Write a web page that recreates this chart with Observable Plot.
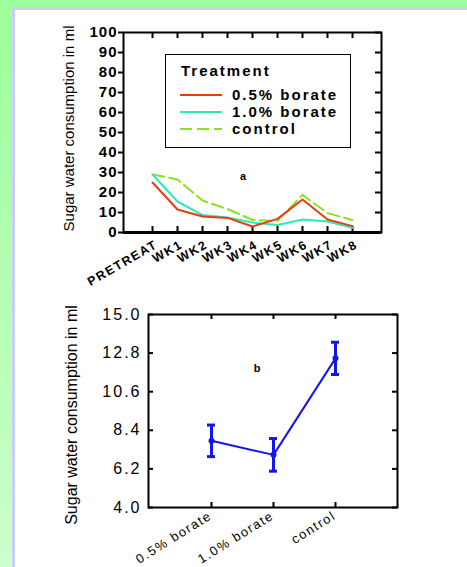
<!DOCTYPE html>
<html>
<head>
<meta charset="utf-8">
<script src="https://cdn.jsdelivr.net/npm/d3@7"></script>
<script src="https://cdn.jsdelivr.net/npm/@observablehq/plot@0.6"></script>
<style>
  html, body { margin: 0; padding: 0; width: 467px; height: 567px; overflow: hidden; }
  body { background: linear-gradient(to bottom, #9dff9a 0%, #b8ffb8 60%, #ccffcc 100%); position: relative; font-family: "Liberation Sans", Arial, sans-serif; }
  #panel { position: absolute; left: 12px; top: 7px; width: 452px; height: 557px; background: #fff; border-left: 3px solid #ccccff; border-top: 3px solid #ccccff; }
  .chart { position: absolute; left: 0; }
  #chartA { top: 0; }
  #chartB { top: 290px; }
  #chartA g[aria-label="y-axis tick label"] text { font-weight: bold; letter-spacing: 1px; }
  #chartA g[aria-label="x-axis tick label"] text { font-weight: bold; letter-spacing: 1.5px; }
  #chartB g[aria-label="y-axis tick label"] text { letter-spacing: 2px; }
  #chartB g[aria-label="x-axis tick label"] text { letter-spacing: 1.5px; }
  #overlay { position: absolute; left: 0; top: 0; pointer-events: none; }
</style>
</head>
<body>
<div id="panel"></div>
<div id="chartA" class="chart"></div>
<div id="chartB" class="chart"></div>
<svg id="overlay" width="467" height="567"></svg>
<script>
// ---- data ----
const weeks = ["PRETREAT", "WK1", "WK2", "WK3", "WK4", "WK5", "WK6", "WK7", "WK8"];
const borate05 = [25, 11.5, 8, 7.3, 3, 6.8, 16.5, 6.5, 3.2];
const borate10 = [29, 15.5, 8.7, 7.5, 5, 3.7, 6.5, 5.5, 2.3];
const control = [29, 26.5, 16, 11.7, 6.3, 5.8, 18.8, 9.7, 6.2];
const yTicksA = [0, 10, 20, 30, 40, 50, 60, 70, 80, 90, 100];

const groups = ["0.5% borate", "1.0% borate", "control"];
const means = [7.8, 7.0, 12.5];
const errs = [0.9, 0.93, 0.92];
const yTicksB = [4.0, 6.2, 8.4, 10.6, 12.8, 15.0];

const seriesNames = ["0.5% borate", "1.0% borate", "control"];
const yLabel = "Sugar water consumption in ml";
const legendTitle = "Treatment";

// ---- styles ----
const font = "Liberation Sans, Arial, sans-serif";
const cRed = "#ec3a12", cCyan = "#2ee8b8", cGreen = "#8ce01c", cBlue = "#1414ee";

const rows = (vals, name) => weeks.map((w, i) => ({week: w, value: vals[i], series: name}));
const d05 = rows(borate05, seriesNames[0]);
const d10 = rows(borate10, seriesNames[1]);
const dCt = rows(control, seriesNames[2]);

const WA = 467, HA = 290, mlA = 123, mrA = 86, mtA = 32, mbA = 58;
const fwA = WA - mlA - mrA, fhA = HA - mtA - mbA;

const chartA = Plot.plot({
  width: WA, height: HA,
  marginLeft: mlA, marginRight: mrA, marginTop: mtA, marginBottom: mbA,
  style: {fontFamily: font, background: "transparent", overflow: "visible", color: "black"},
  x: {type: "point", domain: weeks, padding: 1},
  y: {domain: [0, 100]},
  marks: [
    Plot.frame({stroke: "black", strokeWidth: 2}),
    Plot.ruleY([0], {stroke: "black", strokeWidth: 3}),
    Plot.tickX(weeks, {x: d => d, insetBottom: fhA - 6, stroke: "black", strokeWidth: 2}),
    Plot.tickX(weeks, {x: d => d, insetTop: fhA - 6, stroke: "black", strokeWidth: 2}),
    Plot.tickY(yTicksA, {y: d => d, insetLeft: fwA - 6, stroke: "black", strokeWidth: 2}),
    Plot.axisY({ticks: yTicksA, tickSize: 5, tickPadding: 1, fontSize: 15, fontWeight: "bold", strokeWidth: 2, label: null}),
    Plot.axisX({tickSize: 0, tickRotate: -30, tickPadding: 11, fontSize: 12.5, fontWeight: "bold", dx: 4, label: null}),
    Plot.line(dCt, {x: "week", y: "value", stroke: cGreen, strokeWidth: 2, strokeDasharray: "12,5"}),
    Plot.line(d10, {x: "week", y: "value", stroke: cCyan, strokeWidth: 2}),
    Plot.line(d05, {x: "week", y: "value", stroke: cRed, strokeWidth: 2}),
    Plot.text([yLabel], {text: d => d, frameAnchor: "left", textAnchor: "middle", rotate: -90, dx: -54, dy: -4, fontSize: 15, fill: "black"})
  ]
});
document.getElementById("chartA").appendChild(chartA);

const WB = 467, HB = 277, mlB = 148, mrB = 70, mtB = 24, mbB = 60;
const fwB = WB - mlB - mrB, fhB = HB - mtB - mbB;
const dB = groups.map((g, i) => ({g, m: means[i], e: errs[i]}));

const chartB = Plot.plot({
  width: WB, height: HB,
  marginLeft: mlB, marginRight: mrB, marginTop: mtB, marginBottom: mbB,
  style: {fontFamily: font, background: "transparent", overflow: "visible", color: "black"},
  x: {type: "point", domain: groups, padding: 1},
  y: {domain: [4, 15]},
  marks: [
    Plot.frame({stroke: "black", strokeWidth: 2}),
    Plot.tickX(groups, {x: d => d, insetBottom: fhB - 5, stroke: "black", strokeWidth: 2}),
    Plot.tickX(groups, {x: d => d, insetTop: fhB - 5, stroke: "black", strokeWidth: 2}),
    Plot.tickY(yTicksB, {y: d => d, insetRight: fwB - 5, stroke: "black", strokeWidth: 2}),
    Plot.tickY(yTicksB, {y: d => d, insetLeft: fwB - 5, stroke: "black", strokeWidth: 2}),
    Plot.axisY({ticks: yTicksB, tickFormat: d3.format(".1f"), tickSize: 0, tickPadding: 7, fontSize: 16, label: null}),
    Plot.axisX({tickSize: 0, tickRotate: -32, tickPadding: 7, fontSize: 13, dx: -1, label: null}),
    Plot.line(dB, {x: "g", y: "m", stroke: cBlue, strokeWidth: 2}),
    Plot.ruleX(dB, {x: "g", y1: d => d.m - d.e, y2: d => d.m + d.e, stroke: cBlue, strokeWidth: 3}),
    Plot.ruleY(dB, {x1: "g", x2: "g", y: d => d.m + d.e, insetLeft: -4, insetRight: -4, stroke: cBlue, strokeWidth: 3}),
    Plot.ruleY(dB, {x1: "g", x2: "g", y: d => d.m - d.e, insetLeft: -4, insetRight: -4, stroke: cBlue, strokeWidth: 3}),
    Plot.dot(dB, {x: "g", y: "m", r: 3, fill: cBlue}),
    Plot.text([yLabel], {text: d => d, frameAnchor: "left", textAnchor: "middle", rotate: -90, dx: -77, dy: 4, fontSize: 16, fill: "black"})
  ]
});
document.getElementById("chartB").appendChild(chartB);

// ---- legend & panel letters (overlay) ----
const ov = d3.select("#overlay");
ov.append("rect").attr("x", 165.5).attr("y", 54.5).attr("width", 185).attr("height", 93)
  .attr("fill", "white").attr("stroke", "black").attr("stroke-width", 1);
ov.append("text").attr("x", 181).attr("y", 76).attr("font-family", font).attr("font-size", 15)
  .attr("font-weight", "bold").attr("letter-spacing", "2px").text(legendTitle);
const legItems = [
  {name: seriesNames[0], color: cRed, dash: null, y: 95},
  {name: seriesNames[1], color: cCyan, dash: null, y: 112},
  {name: seriesNames[2], color: cGreen, dash: "12,5", y: 129}
];
legItems.forEach(it => {
  ov.append("line").attr("x1", 180).attr("x2", 222).attr("y1", it.y).attr("y2", it.y)
    .attr("stroke", it.color).attr("stroke-width", 2).attr("stroke-dasharray", it.dash);
  ov.append("text").attr("x", 232).attr("y", it.y + 5).attr("font-family", font).attr("font-size", 15)
    .attr("font-weight", "bold").attr("letter-spacing", "2px").text(it.name);
});
ov.append("text").attr("x", 243).attr("y", 180).attr("text-anchor", "middle").attr("font-family", font)
  .attr("font-size", 11).attr("font-weight", "bold").text("a");
ov.append("text").attr("x", 257).attr("y", 372).attr("text-anchor", "middle").attr("font-family", font)
  .attr("font-size", 11).attr("font-weight", "bold").text("b");
</script>
</body>
</html>
